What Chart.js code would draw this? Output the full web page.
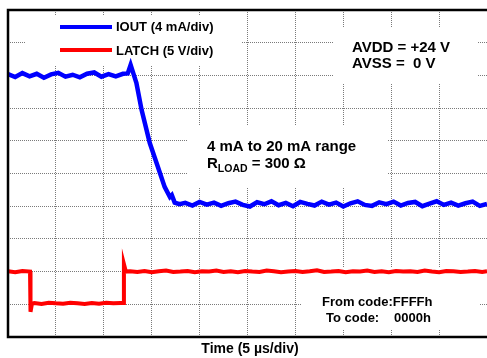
<!DOCTYPE html>
<html>
<head>
<meta charset="utf-8">
<script src="https://cdn.jsdelivr.net/npm/chart.js@4/dist/chart.umd.min.js"></script>
<style>
  body { margin: 0; background: #fff; }
  canvas { display: block; }
</style>
</head>
<body>
<canvas id="scope" width="487" height="358"></canvas>
<script>
// Time in divisions (5 us/div), amplitude in divisions
const iOutTime = [
  0, 0.15, 0.3, 0.45, 0.6, 0.75, 0.9, 1.05, 1.2, 1.35,
  1.5, 1.65, 1.8, 1.95, 2.1, 2.25, 2.4, 2.5, 2.56, 2.68,
  2.79, 2.96, 3.13, 3.27, 3.38, 3.42, 3.48, 3.58,
  3.7, 3.85, 4.0, 4.15, 4.3, 4.45, 4.6, 4.75, 4.9, 5.05,
  5.2, 5.35, 5.5, 5.65, 5.8, 5.95, 6.1, 6.25, 6.4, 6.55,
  6.7, 6.85, 7.0, 7.15, 7.3, 7.45, 7.6, 7.75, 7.9, 8.05,
  8.2, 8.35, 8.5, 8.65, 8.8, 8.95, 9.1, 9.25, 9.4, 9.55,
  9.7, 9.85, 10.0
]
const iOutDiv = [
  8.04, 7.95, 8.07, 7.97, 8.05, 7.93, 8.03, 8.08, 7.96, 8.02,
  7.94, 8.05, 8.09, 7.96, 8.04, 7.97, 8.05, 8.06, 8.32, 7.77,
  6.94, 5.93, 5.2, 4.59, 4.28, 4.34, 4.11, 4.06,
  4.10, 4.02, 4.13, 4.05, 4.11, 4.01, 4.09, 4.14, 4.04, 3.99,
  4.12, 4.06, 4.15, 4.03, 4.10, 4.00, 4.13, 4.07, 4.02, 4.14,
  4.05, 4.11, 3.99, 4.09, 4.15, 4.04, 4.01, 4.12, 4.06, 4.14,
  4.02, 4.10, 4.13, 4.00, 4.08, 4.15, 4.04, 4.11, 4.02, 4.09,
  4.14, 4.01, 4.07
]

const latchTime = [
  0, 0.15, 0.3, 0.46, 0.47, 0.5, 0.55, 0.7, 0.85, 1.0,
  1.15, 1.3, 1.45, 1.6, 1.75, 1.9, 2.05, 2.2, 2.35, 2.41,
  2.42, 2.46, 2.55, 2.7, 2.85, 3.0, 3.15, 3.3, 3.45, 3.6,
  3.75, 3.9, 4.05, 4.2, 4.35, 4.5, 4.65, 4.8, 4.95, 5.1,
  5.25, 5.4, 5.55, 5.7, 5.85, 6.0, 6.15, 6.3, 6.45, 6.6,
  6.75, 6.9, 7.05, 7.2, 7.35, 7.5, 7.65, 7.8, 7.95, 8.1,
  8.25, 8.4, 8.55, 8.7, 8.85, 9.0, 9.15, 9.3, 9.45, 9.6,
  9.75, 9.9, 10.0
]
const latchDiv = [
  2.01, 1.98, 2.02, 2.0, 0.77, 1.02, 1.04, 1.01, 1.05, 1.03,
  1.02, 1.05, 1.03, 1.01, 1.04, 1.02, 1.05, 1.03, 1.04, 1.04,
  2.23, 2.0, 2.01, 1.99, 2.02, 1.98, 2.01, 2.03, 1.99, 2.0,
  2.02, 1.98, 2.01, 2.0, 2.03, 1.99, 2.01, 1.98, 2.02, 2.0,
  1.99, 2.03, 2.01, 1.98, 2.0, 2.02, 1.99, 2.01, 2.04, 1.99,
  2.0, 2.02, 1.98, 2.01, 2.0, 2.03, 1.99, 2.01, 1.98, 2.02,
  2.0, 2.01, 1.99, 2.03, 2.0, 1.98, 2.02, 2.01, 1.99, 2.0,
  2.02, 1.99, 2.01
]

const legendLabels = ["IOUT (4 mA/div)", "LATCH (5 V/div)"]
const supplyLines = ["AVDD = +24 V", "AVSS =  0 V"]
const rangeLine = "4 mA to 20 mA range"
const xTitle = "Time (5 \u00b5s/div)"

const FONT = "'Liberation Sans', Arial, sans-serif"

function toPoints(xs, ys) {
  return xs.map((x, i) => ({ x: x, y: ys[i] }))
}

// white boxes under the annotations, then the annotation text
const annotations = {
  id: "annotations",
  beforeDatasetsDraw(chart) {
    const ctx = chart.ctx
    ctx.save()
    ctx.fillStyle = "#fff"
    ctx.fillRect(25, 15, 217, 51)
    ctx.fillRect(333, 27, 145, 56)
    ctx.fillRect(188, 125, 199, 63)
    ctx.fillRect(302, 267, 177, 63)

    // legend samples
    ctx.lineWidth = 4
    ctx.strokeStyle = "#0000ff"
    ctx.beginPath(); ctx.moveTo(60, 27); ctx.lineTo(112, 27); ctx.stroke()
    ctx.strokeStyle = "#ff0000"
    ctx.beginPath(); ctx.moveTo(60, 50); ctx.lineTo(112, 50); ctx.stroke()

    ctx.fillStyle = "#000"
    ctx.textBaseline = "middle"
    ctx.textAlign = "left"
    ctx.font = "bold 13px " + FONT
    ctx.fillText(legendLabels[0], 116, 27)
    ctx.fillText(legendLabels[1], 116, 51)

    ctx.font = "bold 15px " + FONT
    ctx.fillText(supplyLines[0], 352, 48)
    ctx.fillText(supplyLines[1], 352, 64)

    ctx.fillText(rangeLine, 207, 147)
    ctx.fillText("R", 207, 164)
    let w = ctx.measureText("R").width
    ctx.font = "bold 10.5px " + FONT
    ctx.fillText("LOAD", 207 + w, 169)
    let w2 = ctx.measureText("LOAD").width
    ctx.font = "bold 15px " + FONT
    ctx.fillText(" = 300 \u03a9", 207 + w + w2, 164)

    ctx.font = "bold 13px " + FONT
    ctx.fillText("From code:FFFFh", 322, 302)
    ctx.fillText("To code:", 326, 318)
    ctx.fillText("0000h", 394, 318)
    ctx.restore()
  },
  afterDraw(chart) {
    const ctx = chart.ctx
    const a = chart.chartArea
    ctx.save()
    ctx.strokeStyle = "#000"
    ctx.lineWidth = 2.5
    ctx.beginPath()
    ctx.moveTo(chart.width, a.top)
    ctx.lineTo(a.left, a.top)
    ctx.lineTo(a.left, a.bottom)
    ctx.lineTo(chart.width, a.bottom)
    ctx.stroke()

    ctx.fillStyle = "#000"
    ctx.font = "bold 14px " + FONT
    ctx.textAlign = "center"
    ctx.textBaseline = "middle"
    ctx.fillText(xTitle, 250, 349)
    ctx.restore()
  }
}

const gridStyle = {
  color: "#7a7a7a",
  lineWidth: 1,
  drawTicks: false
}

new Chart(document.getElementById("scope"), {
  type: "line",
  data: {
    datasets: [
      {
        label: legendLabels[1],
        data: toPoints(latchTime, latchDiv),
        borderColor: "#ff0000",
        borderWidth: 4,
        pointRadius: 0,
        tension: 0
      },
      {
        label: legendLabels[0],
        data: toPoints(iOutTime, iOutDiv),
        borderColor: "#0000ff",
        borderWidth: 4.5,
        pointRadius: 0,
        tension: 0
      }
    ]
  },
  options: {
    responsive: false,
    animation: false,
    devicePixelRatio: 1,
    layout: { padding: { left: 8, top: 10, right: 0, bottom: 21 } },
    plugins: {
      legend: { display: false },
      tooltip: { enabled: false }
    },
    scales: {
      x: {
        type: "linear",
        min: 0,
        max: 10,
        ticks: { display: false, stepSize: 1 },
        grid: gridStyle,
        border: { display: false, dash: [1, 1] }
      },
      y: {
        type: "linear",
        min: 0,
        max: 10,
        ticks: { display: false, stepSize: 1 },
        grid: gridStyle,
        border: { display: false, dash: [1, 1] }
      }
    }
  },
  plugins: [annotations]
})
</script>
</body>
</html>
